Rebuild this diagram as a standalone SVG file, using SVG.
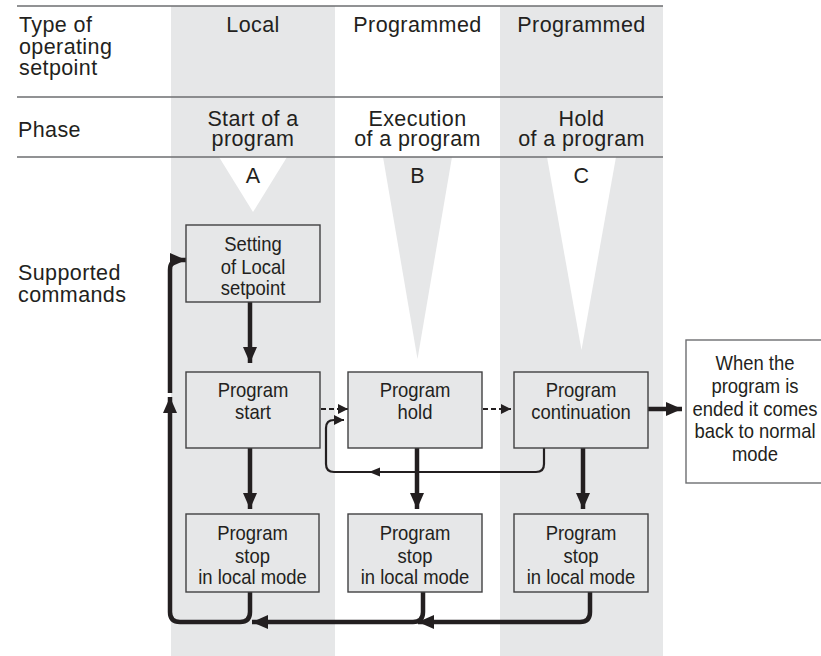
<svg xmlns="http://www.w3.org/2000/svg" width="821" height="656" viewBox="0 0 821 656">
<style>
.hdr{font-family:"Liberation Sans",Arial,sans-serif;font-size:21.5px;letter-spacing:0.4px;fill:#231f20}
.ctr{text-anchor:middle}
.nt{font-family:"Liberation Sans",Arial,sans-serif;font-size:20.5px;fill:#231f20;text-anchor:middle}
.col{fill:#e6e7e8}
.rule{stroke:#6d6e71;stroke-width:1.6;fill:none}
.box{fill:#e6e7e8;stroke:#414042;stroke-width:1.4}
.thick{stroke:#231f20;stroke-width:4.5;fill:none}
.thin{stroke:#231f20;stroke-width:2.2;fill:none}
.dash{stroke:#231f20;stroke-width:2;fill:none;stroke-dasharray:5,3}
.head{fill:#231f20}
</style>
<defs>
<marker id="ah" viewBox="0 0 16 14" refX="16" refY="7" markerWidth="16" markerHeight="14" markerUnits="userSpaceOnUse" orient="auto"><path d="M0,0 L16,7 L0,14 Z" fill="#231f20"/></marker>
<marker id="as" viewBox="0 0 10 10" refX="10" refY="5" markerWidth="10" markerHeight="10" markerUnits="userSpaceOnUse" orient="auto"><path d="M0,0 L10,5 L0,10 Z" fill="#231f20"/></marker>
</defs>
<rect width="821" height="656" fill="#ffffff"/>
<g id="background">
<rect class="col" x="171" y="6" width="164" height="650"/>
<rect class="col" x="500" y="6" width="163" height="650"/>
<polygon fill="#ffffff" points="219,157 287,157 253,212"/>
<polygon class="col" points="383,157 452,157 417.5,359"/>
<polygon fill="#ffffff" points="547,157 616,157 581.5,350"/>
<line class="rule" x1="17" y1="6" x2="663" y2="6"/>
<line class="rule" x1="17" y1="97" x2="663" y2="97"/>
<line class="rule" x1="17" y1="157" x2="663" y2="157"/>
</g>
<g id="headers">
<text class="hdr" x="19" y="32">Type of</text>
<text class="hdr" x="19" y="53.5">operating</text>
<text class="hdr" x="19" y="75">setpoint</text>
<text class="hdr ctr" x="253" y="32">Local</text>
<text class="hdr ctr" x="417.5" y="32">Programmed</text>
<text class="hdr ctr" x="581.5" y="32">Programmed</text>
<text class="hdr" x="18" y="137">Phase</text>
<text class="hdr ctr" x="253" y="125.5">Start of a</text>
<text class="hdr ctr" x="253" y="146">program</text>
<text class="hdr ctr" x="417.5" y="125.5">Execution</text>
<text class="hdr ctr" x="417.5" y="146">of a program</text>
<text class="hdr ctr" x="581.5" y="125.5">Hold</text>
<text class="hdr ctr" x="581.5" y="146">of a program</text>
<text class="hdr ctr" x="253" y="183">A</text>
<text class="hdr ctr" x="417.5" y="183">B</text>
<text class="hdr ctr" x="581.5" y="183">C</text>
<text class="hdr" x="18" y="280">Supported</text>
<text class="hdr" x="18" y="301.5">commands</text>
</g>
<g id="connectors">
<line class="thick" x1="250" y1="302" x2="250" y2="363" marker-end="url(#ah)"/>
<line class="thick" x1="250" y1="448" x2="250" y2="509" marker-end="url(#ah)"/>
<line class="thick" x1="417" y1="448" x2="417" y2="509" marker-end="url(#ah)"/>
<line class="thick" x1="583" y1="448" x2="583" y2="509" marker-end="url(#ah)"/>
<line class="thick" x1="648" y1="409" x2="682" y2="409" marker-end="url(#ah)"/>
<line class="dash" x1="321" y1="409" x2="348" y2="409" marker-end="url(#as)"/>
<line class="dash" x1="483" y1="409" x2="511" y2="409" marker-end="url(#as)"/>
<path class="thin" d="M544,448 V464 Q544,472 536,472 H334 Q326,472 326,464 V428 Q326,420 334,420 H344" marker-end="url(#as)"/>
<polygon class="head" points="369,472 380,467.5 380,476.5"/>
<path class="thick" d="M590,592 V612 Q590,622 580,622 H418" marker-end="url(#ah)"/>
<path class="thick" d="M423,592 V612 Q423,622 413,622 H252" marker-end="url(#ah)"/>
<path class="thick" d="M250,592 V612 Q250,622 240,622 H180 Q170,622 170,612 V397" marker-end="url(#ah)"/>
<path class="thick" d="M170,393 V270 Q170,260 180,260 H186" marker-end="url(#ah)"/>
</g>
<g id="setting">
<rect class="box" x="186" y="225" width="134" height="77"/>
<g transform="translate(253 0) scale(0.9 1)">
<text class="nt" x="0" y="251.5">Setting</text>
<text class="nt" x="0" y="274">of Local</text>
<text class="nt" x="0" y="295.5">setpoint</text>
</g>
</g>
<g id="program-start">
<rect class="box" x="186" y="372" width="134" height="76"/>
<g transform="translate(253 0) scale(0.9 1)">
<text class="nt" x="0" y="397">Program</text>
<text class="nt" x="0" y="419">start</text>
</g>
</g>
<g id="program-hold">
<rect class="box" x="348" y="372" width="134" height="76"/>
<g transform="translate(415 0) scale(0.9 1)">
<text class="nt" x="0" y="397">Program</text>
<text class="nt" x="0" y="419">hold</text>
</g>
</g>
<g id="program-continuation">
<rect class="box" x="514" y="372" width="134" height="76"/>
<g transform="translate(581 0) scale(0.9 1)">
<text class="nt" x="0" y="397">Program</text>
<text class="nt" x="0" y="419">continuation</text>
</g>
</g>
<g id="end-note">
<rect x="686" y="340" width="140" height="143" fill="#ffffff" stroke="#6d6e71" stroke-width="1.4"/>
<g transform="translate(755 0) scale(0.9 1)">
<text class="nt" x="0" y="370">When the</text>
<text class="nt" x="0" y="393">program is</text>
<text class="nt" x="0" y="416">ended it comes</text>
<text class="nt" x="0" y="438.5">back to normal</text>
<text class="nt" x="0" y="461">mode</text>
</g>
</g>
<g id="stop-a">
<rect class="box" x="186" y="514" width="133" height="78"/>
<g transform="translate(252.5 0) scale(0.9 1)">
<text class="nt" x="0" y="540">Program</text>
<text class="nt" x="0" y="563">stop</text>
<text class="nt" x="0" y="584.5">in local mode</text>
</g>
</g>
<g id="stop-b">
<rect class="box" x="348" y="514" width="134" height="78"/>
<g transform="translate(415 0) scale(0.9 1)">
<text class="nt" x="0" y="540">Program</text>
<text class="nt" x="0" y="563">stop</text>
<text class="nt" x="0" y="584.5">in local mode</text>
</g>
</g>
<g id="stop-c">
<rect class="box" x="514" y="514" width="134" height="78"/>
<g transform="translate(581 0) scale(0.9 1)">
<text class="nt" x="0" y="540">Program</text>
<text class="nt" x="0" y="563">stop</text>
<text class="nt" x="0" y="584.5">in local mode</text>
</g>
</g>
</svg>
